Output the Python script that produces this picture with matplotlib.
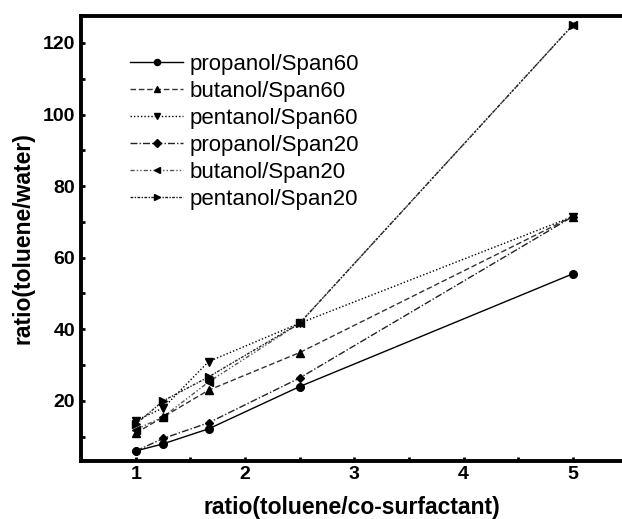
import numpy as np
import matplotlib.pyplot as plt
from matplotlib.ticker import MultipleLocator

plt.rcParams['font.family'] = ['Liberation Sans', 'DejaVu Sans']

# ratio toluene / co-surfactant
x = [1, 1.25, 1.667, 2.5, 5]

propanol_span60 = [6, 8, 12.2, 24, 55.5]
butanol_span60 = [11, 15.5, 23, 33.5, 71.5]
pentanol_span60 = [14.5, 18, 31, 41.7, 71.5]
propanol_span20 = [6, 9.5, 13.9, 26.4, 71.5]
butanol_span20 = [12, 15.5, 25.3, 41.7, 125]
pentanol_span20 = [13.5, 20, 26.7, 41.7, 125]

labels = ["propanol/Span60", "butanol/Span60", "pentanol/Span60",
          "propanol/Span20", "butanol/Span20", "pentanol/Span20"]
series = [propanol_span60, butanol_span60, pentanol_span60,
          propanol_span20, butanol_span20, pentanol_span20]
styles = ["-", (0, (4, 2)), (0, (1, 1.5)), (0, (5, 1.5, 1, 1.5)),
          (0, (3, 1.5, 1, 1.5, 1, 1.5)), (0, (2, 1, 1, 1))]
markers = ["o", "^", "v", "D", "<", ">"]
colors = ["black", "#333333", "black", "#222222", "#555555", "#222222"]

fig = plt.figure(figsize=(6.22, 5.19), dpi=100)
ax = fig.add_axes([0.130, 0.112, 0.870, 0.857])

for ys, lab, ls, mk, c in zip(series, labels, styles, markers, colors):
    ax.plot(x, ys, linestyle=ls, marker=mk, color=c, lw=1.0,
            markersize=5.5 if mk != "D" else 4.5, markerfacecolor="black",
            markeredgecolor="black", label=lab)

ax.set_xlim(0.497, 5.45)
ax.set_ylim(3.24, 127.5)
ax.xaxis.set_major_locator(MultipleLocator(1))
ax.xaxis.set_minor_locator(MultipleLocator(0.5))
ax.yaxis.set_major_locator(MultipleLocator(20))
ax.yaxis.set_minor_locator(MultipleLocator(10))
ax.set_yticks([20, 40, 60, 80, 100, 120])

for s in ["left", "bottom", "top"]:
    ax.spines[s].set_linewidth(2.8)
ax.spines["right"].set_visible(False)

ax.tick_params(which="both", direction="in", length=3, width=2, pad=4,
               labelsize=14)
for t in ax.get_xticklabels() + ax.get_yticklabels():
    t.set_fontweight("bold")

ax.set_xlabel("ratio(toluene/co-surfactant)", fontsize=16.5,
              fontweight="bold", labelpad=9)
ax.set_ylabel("ratio(toluene/water)", fontsize=16.5,
              fontweight="bold", labelpad=6)

ax.legend(loc="upper left", bbox_to_anchor=(0.0906, 0.915), frameon=False,
          fontsize=16, handlelength=2.4, handletextpad=0.3,
          labelspacing=0.27, markerscale=0.8, borderaxespad=0, borderpad=0)

fig.savefig("out.png", dpi=100)
